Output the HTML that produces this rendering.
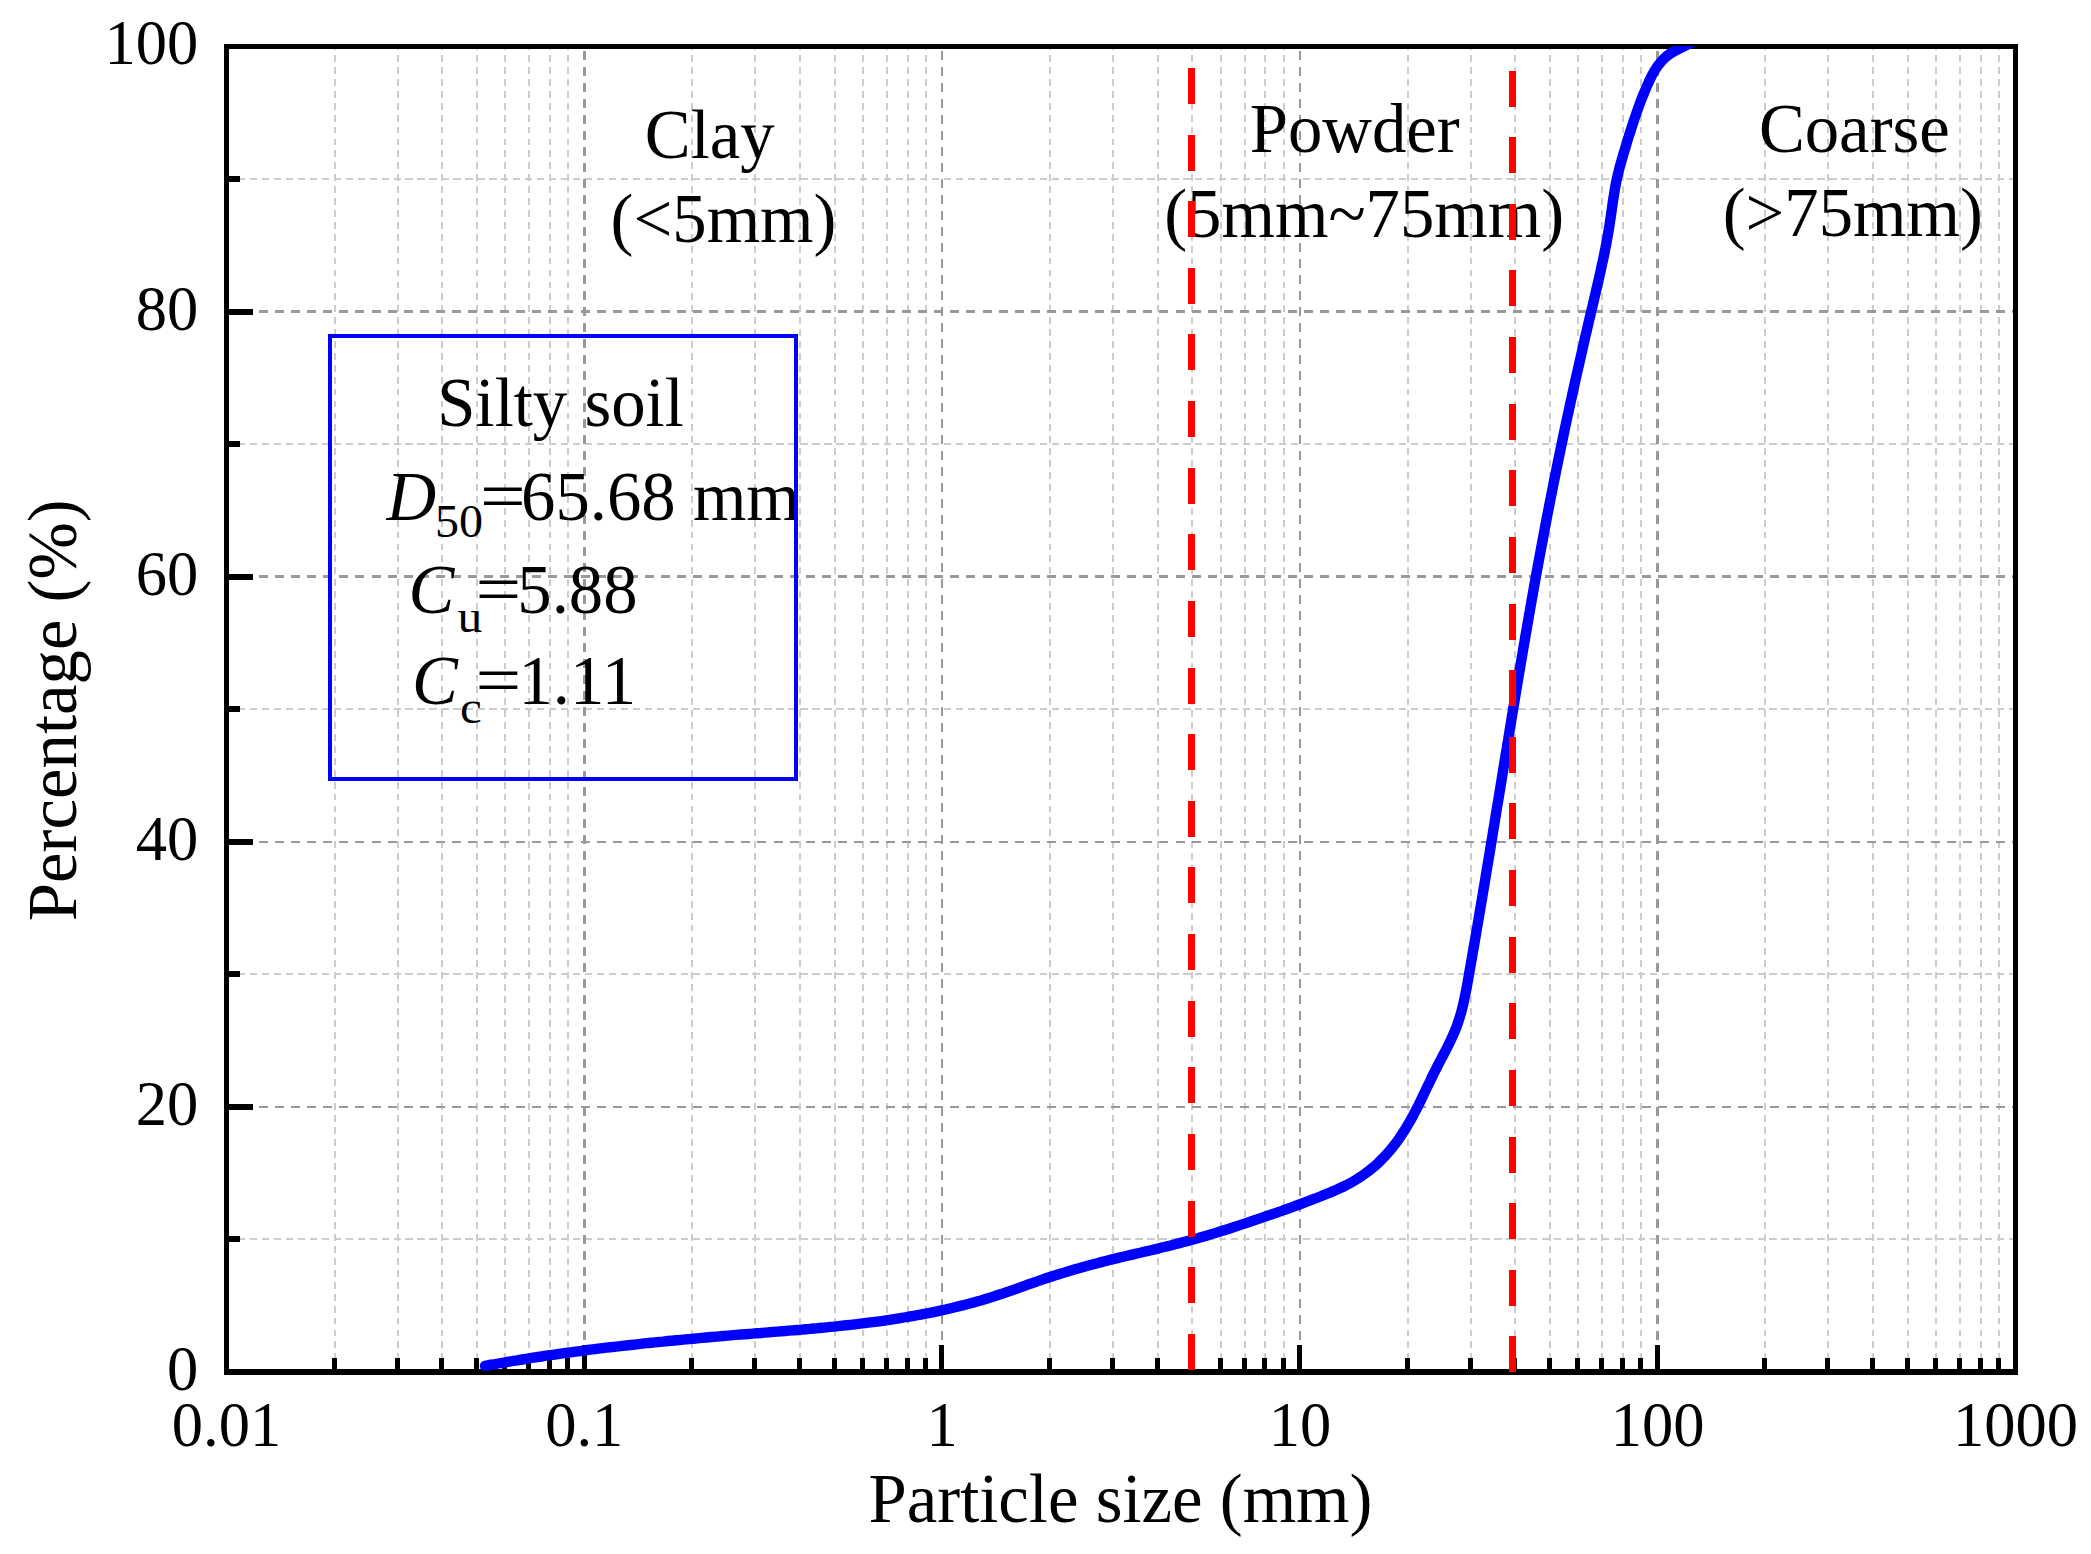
<!DOCTYPE html>
<html><head><meta charset="utf-8"><title>Particle size distribution</title>
<style>html,body{margin:0;padding:0;background:#fff}svg{display:block}</style></head>
<body>
<svg width="2091" height="1554" viewBox="0 0 2091 1554">
<rect width="2091" height="1554" fill="#fff"/>
<clipPath id="gc"><rect x="226.5" y="46.5" width="1789.0" height="1325.5"/></clipPath>
<g shape-rendering="crispEdges" clip-path="url(#gc)"><line x1="335" y1="43.3" x2="335" y2="1372.0" stroke="#cccccc" stroke-width="2" stroke-dasharray="6.8 5.11"/><line x1="398" y1="43.3" x2="398" y2="1372.0" stroke="#cccccc" stroke-width="2" stroke-dasharray="6.8 5.11"/><line x1="442" y1="43.3" x2="442" y2="1372.0" stroke="#cccccc" stroke-width="2" stroke-dasharray="6.8 5.11"/><line x1="477" y1="43.3" x2="477" y2="1372.0" stroke="#cccccc" stroke-width="2" stroke-dasharray="6.8 5.11"/><line x1="505" y1="43.3" x2="505" y2="1372.0" stroke="#cccccc" stroke-width="2" stroke-dasharray="6.8 5.11"/><line x1="529" y1="43.3" x2="529" y2="1372.0" stroke="#cccccc" stroke-width="2" stroke-dasharray="6.8 5.11"/><line x1="550" y1="43.3" x2="550" y2="1372.0" stroke="#cccccc" stroke-width="2" stroke-dasharray="6.8 5.11"/><line x1="568" y1="43.3" x2="568" y2="1372.0" stroke="#cccccc" stroke-width="2" stroke-dasharray="6.8 5.11"/><line x1="692" y1="43.3" x2="692" y2="1372.0" stroke="#cccccc" stroke-width="2" stroke-dasharray="6.8 5.11"/><line x1="755" y1="43.3" x2="755" y2="1372.0" stroke="#cccccc" stroke-width="2" stroke-dasharray="6.8 5.11"/><line x1="800" y1="43.3" x2="800" y2="1372.0" stroke="#cccccc" stroke-width="2" stroke-dasharray="6.8 5.11"/><line x1="835" y1="43.3" x2="835" y2="1372.0" stroke="#cccccc" stroke-width="2" stroke-dasharray="6.8 5.11"/><line x1="863" y1="43.3" x2="863" y2="1372.0" stroke="#cccccc" stroke-width="2" stroke-dasharray="6.8 5.11"/><line x1="887" y1="43.3" x2="887" y2="1372.0" stroke="#cccccc" stroke-width="2" stroke-dasharray="6.8 5.11"/><line x1="908" y1="43.3" x2="908" y2="1372.0" stroke="#cccccc" stroke-width="2" stroke-dasharray="6.8 5.11"/><line x1="926" y1="43.3" x2="926" y2="1372.0" stroke="#cccccc" stroke-width="2" stroke-dasharray="6.8 5.11"/><line x1="1050" y1="43.3" x2="1050" y2="1372.0" stroke="#cccccc" stroke-width="2" stroke-dasharray="6.8 5.11"/><line x1="1113" y1="43.3" x2="1113" y2="1372.0" stroke="#cccccc" stroke-width="2" stroke-dasharray="6.8 5.11"/><line x1="1158" y1="43.3" x2="1158" y2="1372.0" stroke="#cccccc" stroke-width="2" stroke-dasharray="6.8 5.11"/><line x1="1192" y1="43.3" x2="1192" y2="1372.0" stroke="#cccccc" stroke-width="2" stroke-dasharray="6.8 5.11"/><line x1="1221" y1="43.3" x2="1221" y2="1372.0" stroke="#cccccc" stroke-width="2" stroke-dasharray="6.8 5.11"/><line x1="1245" y1="43.3" x2="1245" y2="1372.0" stroke="#cccccc" stroke-width="2" stroke-dasharray="6.8 5.11"/><line x1="1265" y1="43.3" x2="1265" y2="1372.0" stroke="#cccccc" stroke-width="2" stroke-dasharray="6.8 5.11"/><line x1="1284" y1="43.3" x2="1284" y2="1372.0" stroke="#cccccc" stroke-width="2" stroke-dasharray="6.8 5.11"/><line x1="1408" y1="43.3" x2="1408" y2="1372.0" stroke="#cccccc" stroke-width="2" stroke-dasharray="6.8 5.11"/><line x1="1471" y1="43.3" x2="1471" y2="1372.0" stroke="#cccccc" stroke-width="2" stroke-dasharray="6.8 5.11"/><line x1="1515" y1="43.3" x2="1515" y2="1372.0" stroke="#cccccc" stroke-width="2" stroke-dasharray="6.8 5.11"/><line x1="1550" y1="43.3" x2="1550" y2="1372.0" stroke="#cccccc" stroke-width="2" stroke-dasharray="6.8 5.11"/><line x1="1578" y1="43.3" x2="1578" y2="1372.0" stroke="#cccccc" stroke-width="2" stroke-dasharray="6.8 5.11"/><line x1="1602" y1="43.3" x2="1602" y2="1372.0" stroke="#cccccc" stroke-width="2" stroke-dasharray="6.8 5.11"/><line x1="1623" y1="43.3" x2="1623" y2="1372.0" stroke="#cccccc" stroke-width="2" stroke-dasharray="6.8 5.11"/><line x1="1641" y1="43.3" x2="1641" y2="1372.0" stroke="#cccccc" stroke-width="2" stroke-dasharray="6.8 5.11"/><line x1="1765" y1="43.3" x2="1765" y2="1372.0" stroke="#cccccc" stroke-width="2" stroke-dasharray="6.8 5.11"/><line x1="1828" y1="43.3" x2="1828" y2="1372.0" stroke="#cccccc" stroke-width="2" stroke-dasharray="6.8 5.11"/><line x1="1873" y1="43.3" x2="1873" y2="1372.0" stroke="#cccccc" stroke-width="2" stroke-dasharray="6.8 5.11"/><line x1="1908" y1="43.3" x2="1908" y2="1372.0" stroke="#cccccc" stroke-width="2" stroke-dasharray="6.8 5.11"/><line x1="1936" y1="43.3" x2="1936" y2="1372.0" stroke="#cccccc" stroke-width="2" stroke-dasharray="6.8 5.11"/><line x1="1960" y1="43.3" x2="1960" y2="1372.0" stroke="#cccccc" stroke-width="2" stroke-dasharray="6.8 5.11"/><line x1="1981" y1="43.3" x2="1981" y2="1372.0" stroke="#cccccc" stroke-width="2" stroke-dasharray="6.8 5.11"/><line x1="1999" y1="43.3" x2="1999" y2="1372.0" stroke="#cccccc" stroke-width="2" stroke-dasharray="6.8 5.11"/><line x1="226" y1="1239" x2="2015.5" y2="1239" stroke="#cccccc" stroke-width="2" stroke-dasharray="7.3 4.665"/><line x1="226" y1="974" x2="2015.5" y2="974" stroke="#cccccc" stroke-width="2" stroke-dasharray="7.3 4.665"/><line x1="226" y1="709" x2="2015.5" y2="709" stroke="#cccccc" stroke-width="2" stroke-dasharray="7.3 4.665"/><line x1="226" y1="444" x2="2015.5" y2="444" stroke="#cccccc" stroke-width="2" stroke-dasharray="7.3 4.665"/><line x1="226" y1="179" x2="2015.5" y2="179" stroke="#cccccc" stroke-width="2" stroke-dasharray="7.3 4.665"/><line x1="584.5" y1="35.2" x2="584.5" y2="1372.0" stroke="#999999" stroke-width="3" stroke-dasharray="8.8 7.2"/><line x1="942" y1="35.2" x2="942" y2="1372.0" stroke="#999999" stroke-width="2" stroke-dasharray="8.8 7.2"/><line x1="1300" y1="35.2" x2="1300" y2="1372.0" stroke="#999999" stroke-width="2" stroke-dasharray="8.8 7.2"/><line x1="1657.5" y1="35.2" x2="1657.5" y2="1372.0" stroke="#999999" stroke-width="3" stroke-dasharray="8.8 7.2"/><line x1="226.8" y1="1107" x2="2015.5" y2="1107" stroke="#999999" stroke-width="2" stroke-dasharray="9 7.08"/><line x1="226.8" y1="842" x2="2015.5" y2="842" stroke="#999999" stroke-width="2" stroke-dasharray="9 7.08"/><line x1="226.8" y1="576.5" x2="2015.5" y2="576.5" stroke="#999999" stroke-width="3" stroke-dasharray="9 7.08"/><line x1="226.8" y1="311.5" x2="2015.5" y2="311.5" stroke="#999999" stroke-width="3" stroke-dasharray="9 7.08"/></g>
<g fill="#000" shape-rendering="crispEdges"><rect x="224" y="44" width="5" height="1331"/><rect x="2013" y="44" width="5" height="1331"/><rect x="224" y="44" width="1794" height="5"/><rect x="224" y="1369" width="1794" height="6"/><rect x="229" y="1104" width="24" height="6"/><rect x="229" y="839" width="24" height="6"/><rect x="229" y="574" width="24" height="6"/><rect x="229" y="309" width="24" height="6"/><rect x="229" y="1236" width="11" height="6"/><rect x="229" y="971" width="11" height="6"/><rect x="229" y="706" width="11" height="6"/><rect x="229" y="441" width="11" height="6"/><rect x="229" y="176" width="11" height="6"/><rect x="582" y="1345" width="5" height="24"/><rect x="939" y="1345" width="5" height="24"/><rect x="1297" y="1345" width="5" height="24"/><rect x="1655" y="1345" width="5" height="24"/><rect x="332" y="1358" width="5" height="11"/><rect x="395" y="1358" width="5" height="11"/><rect x="439" y="1358" width="5" height="11"/><rect x="474" y="1358" width="5" height="11"/><rect x="502" y="1358" width="5" height="11"/><rect x="526" y="1358" width="5" height="11"/><rect x="547" y="1358" width="5" height="11"/><rect x="565" y="1358" width="5" height="11"/><rect x="689" y="1358" width="5" height="11"/><rect x="752" y="1358" width="5" height="11"/><rect x="797" y="1358" width="5" height="11"/><rect x="832" y="1358" width="5" height="11"/><rect x="860" y="1358" width="5" height="11"/><rect x="884" y="1358" width="5" height="11"/><rect x="905" y="1358" width="5" height="11"/><rect x="923" y="1358" width="5" height="11"/><rect x="1047" y="1358" width="5" height="11"/><rect x="1110" y="1358" width="5" height="11"/><rect x="1155" y="1358" width="5" height="11"/><rect x="1189" y="1358" width="5" height="11"/><rect x="1218" y="1358" width="5" height="11"/><rect x="1242" y="1358" width="5" height="11"/><rect x="1262" y="1358" width="5" height="11"/><rect x="1281" y="1358" width="5" height="11"/><rect x="1405" y="1358" width="5" height="11"/><rect x="1468" y="1358" width="5" height="11"/><rect x="1512" y="1358" width="5" height="11"/><rect x="1547" y="1358" width="5" height="11"/><rect x="1575" y="1358" width="5" height="11"/><rect x="1599" y="1358" width="5" height="11"/><rect x="1620" y="1358" width="5" height="11"/><rect x="1638" y="1358" width="5" height="11"/><rect x="1762" y="1358" width="5" height="11"/><rect x="1825" y="1358" width="5" height="11"/><rect x="1870" y="1358" width="5" height="11"/><rect x="1905" y="1358" width="5" height="11"/><rect x="1933" y="1358" width="5" height="11"/><rect x="1957" y="1358" width="5" height="11"/><rect x="1978" y="1358" width="5" height="11"/><rect x="1996" y="1358" width="5" height="11"/></g>
<g font-family="Liberation Serif, Times New Roman, serif" font-size="62.5" fill="#000"><text x="198.3" y="1389.9" text-anchor="end">0</text><text x="198.3" y="1124.8" text-anchor="end">20</text><text x="198.3" y="859.7" text-anchor="end">40</text><text x="198.3" y="594.6" text-anchor="end">60</text><text x="198.3" y="329.5" text-anchor="end">80</text><text x="198.3" y="64.4" text-anchor="end">100</text><text x="226.5" y="1446" text-anchor="middle">0.01</text><text x="584.3" y="1446" text-anchor="middle">0.1</text><text x="942.1" y="1446" text-anchor="middle">1</text><text x="1299.9" y="1446" text-anchor="middle">10</text><text x="1657.7" y="1446" text-anchor="middle">100</text><text x="2015.5" y="1446" text-anchor="middle">1000</text></g>
<g font-family="Liberation Serif, Times New Roman, serif" font-size="68.75" fill="#000">
<text x="1120.5" y="1522.3" text-anchor="middle">Particle size (mm)</text>
<text transform="translate(76.3 710.25) rotate(-90)" text-anchor="middle">Percentage (%)</text>
</g>
<clipPath id="pc"><rect x="226.5" y="46" width="1789.0" height="1329.0"/></clipPath>
<path d="M485.0,1365.9C486.3,1365.7 490.4,1364.9 493.0,1364.5C495.7,1364.0 498.4,1363.5 501.1,1363.0C503.8,1362.5 506.5,1362.1 509.2,1361.6C511.9,1361.2 514.6,1360.7 517.3,1360.3C520.0,1359.8 522.6,1359.4 525.3,1359.0C528.0,1358.5 530.7,1358.1 533.4,1357.7C536.1,1357.3 538.8,1356.9 541.5,1356.5C544.2,1356.0 546.9,1355.6 549.6,1355.2C552.3,1354.9 555.0,1354.5 557.7,1354.1C560.4,1353.7 563.1,1353.3 565.7,1352.9C568.4,1352.6 571.1,1352.2 573.8,1351.8C576.5,1351.5 579.2,1351.1 581.9,1350.8C584.6,1350.4 587.3,1350.1 590.0,1349.7C592.7,1349.4 595.4,1349.1 598.1,1348.7C600.8,1348.4 603.5,1348.1 606.2,1347.7C608.9,1347.4 611.6,1347.1 614.3,1346.8C617.0,1346.5 619.7,1346.2 622.4,1345.9C625.1,1345.6 627.8,1345.3 630.6,1345.0C633.3,1344.7 636.0,1344.4 638.7,1344.1C641.4,1343.8 644.1,1343.5 646.8,1343.2C649.5,1342.9 652.2,1342.7 654.9,1342.4C657.6,1342.1 660.3,1341.8 663.0,1341.6C665.7,1341.3 668.4,1341.0 671.1,1340.8C673.9,1340.5 676.6,1340.2 679.3,1340.0C682.0,1339.7 684.7,1339.5 687.4,1339.2C690.1,1339.0 692.8,1338.7 695.5,1338.5C698.3,1338.2 701.0,1338.0 703.7,1337.7C706.4,1337.5 709.1,1337.3 711.8,1337.0C714.5,1336.8 717.2,1336.6 720.0,1336.3C722.7,1336.1 725.4,1335.9 728.1,1335.6C730.8,1335.4 733.5,1335.2 736.3,1334.9C739.0,1334.7 741.7,1334.5 744.4,1334.3C747.1,1334.1 749.8,1333.8 752.6,1333.6C755.3,1333.4 758.0,1333.2 760.7,1333.0C763.4,1332.7 766.2,1332.5 768.9,1332.3C771.6,1332.1 774.3,1331.9 777.1,1331.6C779.8,1331.4 782.5,1331.2 785.2,1331.0C787.9,1330.7 790.7,1330.5 793.4,1330.3C796.1,1330.1 798.8,1329.8 801.5,1329.6C804.3,1329.4 807.0,1329.1 809.7,1328.9C812.4,1328.6 815.1,1328.4 817.9,1328.1C820.6,1327.9 823.3,1327.6 826.0,1327.4C828.7,1327.1 831.4,1326.8 834.1,1326.6C836.9,1326.3 839.6,1326.0 842.3,1325.7C845.0,1325.4 847.7,1325.1 850.4,1324.8C853.1,1324.5 855.8,1324.2 858.5,1323.9C861.2,1323.6 863.9,1323.2 866.6,1322.9C869.3,1322.6 872.0,1322.2 874.7,1321.9C877.4,1321.5 880.1,1321.1 882.8,1320.8C885.5,1320.4 888.2,1320.0 890.9,1319.6C893.6,1319.2 896.3,1318.8 899.0,1318.3C901.6,1317.9 904.3,1317.5 907.0,1317.0C909.7,1316.6 912.4,1316.1 915.0,1315.6C917.7,1315.1 920.4,1314.7 923.0,1314.1C925.7,1313.6 928.4,1313.1 931.0,1312.6C933.7,1312.0 936.4,1311.5 939.0,1310.9C941.7,1310.4 944.3,1309.8 947.0,1309.2C949.6,1308.6 952.3,1307.9 954.9,1307.3C957.5,1306.7 960.2,1306.0 962.8,1305.3C965.5,1304.7 968.1,1304.0 970.7,1303.3C973.3,1302.6 976.0,1301.8 978.6,1301.1C981.2,1300.3 983.8,1299.6 986.4,1298.8C989.0,1298.0 991.6,1297.2 994.2,1296.3C996.8,1295.5 999.4,1294.6 1002.0,1293.8C1004.6,1292.9 1007.2,1292.0 1009.8,1291.1C1012.4,1290.2 1015.0,1289.3 1017.5,1288.4C1020.1,1287.4 1022.7,1286.5 1025.3,1285.6C1027.9,1284.7 1030.4,1283.7 1033.0,1282.8C1035.6,1281.9 1038.2,1281.0 1040.8,1280.1C1043.4,1279.2 1045.9,1278.4 1048.5,1277.5C1051.1,1276.7 1053.7,1275.8 1056.3,1275.0C1058.9,1274.2 1061.5,1273.4 1064.1,1272.6C1066.7,1271.8 1069.3,1271.0 1071.9,1270.2C1074.5,1269.5 1077.1,1268.7 1079.7,1268.0C1082.3,1267.2 1084.9,1266.5 1087.6,1265.8C1090.2,1265.1 1092.8,1264.4 1095.4,1263.7C1098.1,1263.0 1100.7,1262.3 1103.3,1261.6C1106.0,1260.9 1108.6,1260.3 1111.2,1259.6C1113.9,1259.0 1116.5,1258.3 1119.2,1257.7C1121.8,1257.1 1124.5,1256.4 1127.1,1255.8C1129.8,1255.2 1132.4,1254.5 1135.1,1253.9C1137.8,1253.3 1140.4,1252.7 1143.1,1252.0C1145.7,1251.4 1148.4,1250.8 1151.0,1250.2C1153.7,1249.5 1156.3,1248.9 1159.0,1248.3C1161.6,1247.6 1164.3,1247.0 1166.9,1246.3C1169.6,1245.7 1172.2,1245.0 1174.9,1244.3C1177.5,1243.7 1180.2,1243.0 1182.8,1242.3C1185.4,1241.6 1188.1,1240.9 1190.7,1240.2C1193.3,1239.5 1195.9,1238.7 1198.5,1238.0C1201.2,1237.2 1203.8,1236.5 1206.4,1235.7C1209.0,1234.9 1211.6,1234.2 1214.2,1233.4C1216.8,1232.6 1219.4,1231.8 1222.0,1230.9C1224.6,1230.1 1227.2,1229.3 1229.8,1228.5C1232.3,1227.6 1234.9,1226.8 1237.5,1225.9C1240.1,1225.1 1242.7,1224.2 1245.3,1223.4C1247.9,1222.5 1250.4,1221.6 1253.0,1220.7C1255.6,1219.9 1258.2,1219.0 1260.8,1218.1C1263.3,1217.2 1265.9,1216.3 1268.5,1215.4C1271.1,1214.6 1273.6,1213.7 1276.2,1212.8C1278.8,1211.9 1281.4,1211.0 1284.0,1210.0C1286.5,1209.1 1289.1,1208.2 1291.7,1207.3C1294.2,1206.4 1296.8,1205.4 1299.4,1204.5C1301.9,1203.6 1304.5,1202.6 1307.0,1201.6C1309.6,1200.7 1312.1,1199.7 1314.6,1198.7C1317.2,1197.7 1319.7,1196.8 1322.2,1195.7C1324.8,1194.7 1327.3,1193.7 1329.8,1192.7C1332.3,1191.6 1334.8,1190.6 1337.2,1189.5C1339.7,1188.3 1342.2,1187.2 1344.6,1186.0C1347.0,1184.8 1349.4,1183.5 1351.8,1182.2C1354.1,1180.9 1356.4,1179.5 1358.7,1178.0C1361.0,1176.6 1363.3,1175.0 1365.5,1173.4C1367.7,1171.8 1369.9,1170.1 1372.0,1168.3C1374.1,1166.6 1376.2,1164.8 1378.2,1162.9C1380.2,1161.0 1382.1,1159.0 1384.0,1157.1C1385.9,1155.1 1387.8,1153.0 1389.6,1150.9C1391.3,1148.9 1393.0,1146.7 1394.7,1144.6C1396.4,1142.4 1397.9,1140.2 1399.5,1138.0C1401.0,1135.8 1402.5,1133.5 1404.0,1131.2C1405.4,1128.9 1406.9,1126.6 1408.2,1124.3C1409.6,1121.9 1410.9,1119.6 1412.2,1117.2C1413.5,1114.8 1414.8,1112.4 1416.0,1110.0C1417.3,1107.6 1418.5,1105.2 1419.7,1102.7C1420.9,1100.3 1422.1,1097.9 1423.2,1095.4C1424.4,1093.0 1425.6,1090.5 1426.7,1088.1C1427.9,1085.6 1429.1,1083.2 1430.3,1080.7C1431.4,1078.2 1432.6,1075.8 1433.8,1073.3C1435.1,1070.9 1436.3,1068.5 1437.5,1066.0C1438.8,1063.6 1440.1,1061.2 1441.4,1058.7C1442.6,1056.3 1443.9,1053.9 1445.2,1051.4C1446.4,1049.0 1447.7,1046.5 1448.9,1044.1C1450.1,1041.6 1451.3,1039.2 1452.4,1036.7C1453.5,1034.2 1454.6,1031.7 1455.6,1029.2C1456.6,1026.7 1457.5,1024.1 1458.4,1021.5C1459.2,1019.0 1460.0,1016.4 1460.8,1013.8C1461.5,1011.2 1462.2,1008.5 1462.8,1005.9C1463.5,1003.3 1464.1,1000.6 1464.6,997.9C1465.2,995.3 1465.7,992.6 1466.2,989.9C1466.8,987.3 1467.2,984.6 1467.7,981.9C1468.2,979.2 1468.7,976.5 1469.1,973.8C1469.6,971.1 1470.1,968.4 1470.5,965.8C1471.0,963.1 1471.5,960.4 1471.9,957.7C1472.4,955.0 1472.9,952.3 1473.3,949.6C1473.8,946.9 1474.3,944.2 1474.7,941.6C1475.2,938.9 1475.6,936.2 1476.1,933.5C1476.6,930.8 1477.0,928.1 1477.5,925.4C1477.9,922.8 1478.4,920.1 1478.8,917.4C1479.3,914.7 1479.7,912.0 1480.2,909.3C1480.6,906.6 1481.1,904.0 1481.6,901.3C1482.0,898.6 1482.5,895.9 1482.9,893.2C1483.4,890.5 1483.8,887.8 1484.3,885.2C1484.7,882.5 1485.2,879.8 1485.6,877.1C1486.0,874.4 1486.5,871.7 1486.9,869.0C1487.4,866.4 1487.8,863.7 1488.3,861.0C1488.7,858.3 1489.2,855.6 1489.6,852.9C1490.1,850.2 1490.5,847.6 1490.9,844.9C1491.4,842.2 1491.8,839.5 1492.3,836.8C1492.7,834.1 1493.1,831.4 1493.6,828.8C1494.0,826.1 1494.5,823.4 1494.9,820.7C1495.3,818.0 1495.8,815.3 1496.2,812.6C1496.7,810.0 1497.1,807.3 1497.5,804.6C1498.0,801.9 1498.4,799.2 1498.9,796.5C1499.3,793.8 1499.7,791.1 1500.2,788.5C1500.6,785.8 1501.1,783.1 1501.5,780.4C1501.9,777.7 1502.4,775.0 1502.8,772.3C1503.2,769.6 1503.7,767.0 1504.1,764.3C1504.6,761.6 1505.0,758.9 1505.4,756.2C1505.9,753.5 1506.3,750.8 1506.8,748.1C1507.2,745.4 1507.6,742.8 1508.1,740.1C1508.5,737.4 1509.0,734.7 1509.4,732.0C1509.8,729.3 1510.3,726.6 1510.7,723.9C1511.2,721.3 1511.6,718.6 1512.0,715.9C1512.5,713.2 1512.9,710.5 1513.4,707.8C1513.8,705.1 1514.3,702.4 1514.7,699.8C1515.2,697.1 1515.6,694.4 1516.0,691.7C1516.5,689.0 1516.9,686.3 1517.4,683.6C1517.8,680.9 1518.3,678.3 1518.7,675.6C1519.2,672.9 1519.6,670.2 1520.1,667.5C1520.5,664.8 1521.0,662.1 1521.5,659.5C1521.9,656.8 1522.4,654.1 1522.8,651.4C1523.3,648.7 1523.7,646.0 1524.2,643.3C1524.7,640.7 1525.1,638.0 1525.6,635.3C1526.0,632.6 1526.5,629.9 1527.0,627.2C1527.4,624.6 1527.9,621.9 1528.4,619.2C1528.8,616.5 1529.3,613.8 1529.8,611.1C1530.2,608.4 1530.7,605.8 1531.2,603.1C1531.6,600.4 1532.1,597.7 1532.6,595.0C1533.1,592.4 1533.6,589.7 1534.0,587.0C1534.5,584.3 1535.0,581.6 1535.5,578.9C1536.0,576.3 1536.4,573.6 1536.9,570.9C1537.4,568.2 1537.9,565.5 1538.4,562.9C1538.9,560.2 1539.4,557.5 1539.9,554.8C1540.4,552.2 1540.9,549.5 1541.4,546.8C1541.9,544.1 1542.4,541.4 1542.9,538.8C1543.4,536.1 1543.9,533.4 1544.4,530.7C1544.9,528.1 1545.4,525.4 1545.9,522.7C1546.4,520.0 1546.9,517.4 1547.4,514.7C1548.0,512.0 1548.5,509.3 1549.0,506.7C1549.5,504.0 1550.0,501.3 1550.6,498.6C1551.1,496.0 1551.6,493.3 1552.2,490.6C1552.7,488.0 1553.2,485.3 1553.7,482.6C1554.3,479.9 1554.8,477.3 1555.4,474.6C1555.9,471.9 1556.4,469.3 1557.0,466.6C1557.5,463.9 1558.1,461.3 1558.6,458.6C1559.2,455.9 1559.7,453.3 1560.3,450.6C1560.8,447.9 1561.4,445.3 1562.0,442.6C1562.5,439.9 1563.1,437.3 1563.6,434.6C1564.2,431.9 1564.8,429.3 1565.3,426.6C1565.9,423.9 1566.5,421.3 1567.0,418.6C1567.6,416.0 1568.2,413.3 1568.8,410.6C1569.3,408.0 1569.9,405.3 1570.5,402.6C1571.1,400.0 1571.7,397.3 1572.3,394.7C1572.8,392.0 1573.4,389.3 1574.0,386.7C1574.6,384.0 1575.2,381.4 1575.8,378.7C1576.4,376.0 1577.0,373.4 1577.6,370.7C1578.2,368.1 1578.8,365.4 1579.4,362.8C1580.0,360.1 1580.6,357.4 1581.2,354.8C1581.8,352.1 1582.4,349.5 1583.0,346.8C1583.6,344.2 1584.2,341.5 1584.8,338.9C1585.4,336.2 1586.1,333.5 1586.7,330.9C1587.3,328.2 1587.9,325.6 1588.5,322.9C1589.1,320.3 1589.8,317.6 1590.4,315.0C1591.0,312.3 1591.6,309.7 1592.3,307.0C1592.9,304.4 1593.5,301.7 1594.1,299.1C1594.8,296.4 1595.4,293.8 1596.0,291.1C1596.6,288.5 1597.2,285.8 1597.9,283.2C1598.5,280.5 1599.1,277.9 1599.7,275.2C1600.3,272.5 1600.9,269.9 1601.4,267.2C1602.0,264.6 1602.6,261.9 1603.2,259.2C1603.7,256.6 1604.3,253.9 1604.8,251.2C1605.3,248.6 1605.9,245.9 1606.4,243.2C1606.9,240.5 1607.4,237.9 1607.8,235.2C1608.3,232.5 1608.8,229.8 1609.2,227.1C1609.6,224.4 1610.0,221.7 1610.4,219.0C1610.8,216.3 1611.2,213.6 1611.6,210.9C1612.0,208.2 1612.3,205.5 1612.7,202.8C1613.1,200.1 1613.5,197.4 1614.0,194.7C1614.4,192.1 1614.8,189.4 1615.3,186.7C1615.8,184.0 1616.3,181.4 1616.9,178.7C1617.5,176.0 1618.1,173.4 1618.8,170.8C1619.4,168.1 1620.1,165.5 1620.9,162.9C1621.6,160.3 1622.4,157.7 1623.1,155.1C1623.9,152.5 1624.7,149.8 1625.5,147.2C1626.3,144.6 1627.0,142.0 1627.8,139.4C1628.6,136.8 1629.5,134.2 1630.3,131.6C1631.1,129.0 1631.9,126.4 1632.8,123.9C1633.6,121.3 1634.5,118.7 1635.4,116.1C1636.3,113.5 1637.2,110.9 1638.1,108.4C1639.0,105.8 1640.0,103.3 1640.9,100.7C1641.9,98.2 1642.9,95.6 1644.0,93.1C1645.0,90.6 1646.1,88.0 1647.2,85.5C1648.3,83.0 1649.4,80.5 1650.6,78.1C1651.8,75.7 1653.1,73.2 1654.5,70.9C1655.9,68.6 1657.3,66.4 1659.0,64.3C1660.6,62.2 1662.3,60.2 1664.3,58.4C1666.2,56.5 1668.3,54.9 1670.5,53.4C1672.8,51.9 1675.3,50.6 1677.8,49.3C1680.3,48.0 1683.0,46.9 1685.5,45.6C1688.0,44.4 1690.5,43.1 1692.8,41.6C1695.0,40.1 1697.9,37.4 1698.9,36.5" fill="none" stroke="#0000ff" stroke-width="10.4" stroke-linecap="round" stroke-linejoin="round" clip-path="url(#pc)"/>
<g font-family="Liberation Serif, Times New Roman, serif" font-size="68.75" fill="#000">
<text x="644.8" y="158.4">Clay</text>
<text x="610.6" y="241.8">(&lt;5mm)</text>
<text x="1249.7" y="152.4">Powder</text>
<text x="1164.2" y="236.8">(5mm~75mm)</text>
<text x="1758.9" y="152.3">Coarse</text>
<text x="1722.7" y="236">(&gt;75mm)</text>
<text x="437.3" y="425.7">Silty soil</text>
<clipPath id="tc"><rect x="300" y="340" width="497" height="436"/></clipPath>
<text x="386.5" y="519.7" font-style="italic">D</text>
<text transform="translate(435.0 537.1) scale(1.06 1)" font-size="45.4">50</text>
<text transform="translate(480.0 519.7) scale(1.18 1)">=</text>
<text x="521.0" y="519.7" clip-path="url(#tc)">65.68 mm</text>
<text x="408.5" y="613.4" font-style="italic">C</text>
<text transform="translate(457.6 632.0) scale(1.09 1)" font-size="45.4">u</text>
<text transform="translate(475.5 613.4) scale(1.18 1)">=</text>
<text x="517.3" y="613.4" clip-path="url(#tc)">5.88</text>
<text x="411.9" y="704.1" font-style="italic">C</text>
<text transform="translate(460.0 722.8) scale(1.08 1)" font-size="45.4">c</text>
<text transform="translate(475.5 704.1) scale(1.18 1)">=</text>
<text x="518.4" y="704.1" clip-path="url(#tc)">1.11</text>
</g>
<g shape-rendering="crispEdges" stroke="#ff0000" stroke-width="7" stroke-dasharray="36 30.62">
<line x1="1191.5" y1="68" x2="1191.5" y2="1369.8"/>
<line x1="1512.5" y1="70.6" x2="1512.5" y2="1372"/>
</g>
<rect x="330" y="336" width="466" height="443" fill="none" stroke="#0000ff" stroke-width="4" shape-rendering="crispEdges"/>
</svg>
</body></html>
